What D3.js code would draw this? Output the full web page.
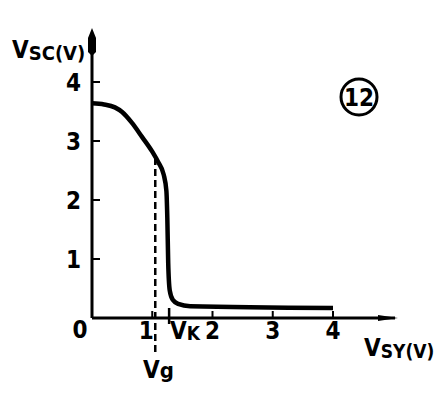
<!DOCTYPE html>
<html><head><meta charset="utf-8">
<script src="https://cdn.jsdelivr.net/npm/d3@7"></script>
<style>body{margin:0;background:#fff}svg{display:block}text{font-family:"DejaVu Sans Condensed","DejaVu Sans",sans-serif;fill:#000;font-weight:bold}</style>
</head><body><svg id="c" width="444" height="398"></svg>
<script>
const vsy = [0.0, 0.20, 0.38, 0.50, 0.66, 0.83, 1.00, 1.10, 1.19, 1.235, 1.25, 1.265, 1.29, 1.34, 1.43, 1.63, 4.0];
const vsc = [3.64, 3.62, 3.57, 3.49, 3.31, 3.07, 2.82, 2.64, 2.43, 2.15, 1.70, 0.93, 0.47, 0.31, 0.24, 0.20, 0.17];
const xTicks = [1, 2, 3, 4];
const yTicks = [1, 2, 3, 4];
const vg = 1.05, vk = 1.28;

const svg = d3.select("#c");
const x = d3.scaleLinear().domain([0, 4]).range([92, 333]);
const y = d3.scaleLinear().domain([0, 4]).range([318, 82]);

// axes
svg.append("line").attr("x1", x(0)).attr("x2", 395).attr("y1", y(0)).attr("y2", y(0)).attr("stroke", "#000").attr("stroke-width", 3);
svg.append("path").attr("d", `M398,${y(0)} L378,${y(0)-3} L378,${y(0)+3} Z`).attr("fill", "#000");
svg.append("line").attr("x1", x(0)).attr("x2", x(0)).attr("y1", y(0)).attr("y2", 38).attr("stroke", "#000").attr("stroke-width", 3);
svg.append("path").attr("d", `M${x(0)},28 L${x(0)-4},38 L${x(0)-4},52 L${x(0)},56 L${x(0)+4},52 L${x(0)+4},38 Z`).attr("fill", "#000");

// ticks
svg.selectAll(".xt").data(xTicks).enter().append("line")
  .attr("x1", d => x(d)).attr("x2", d => x(d)).attr("y1", y(0)).attr("y2", y(0) - 7)
  .attr("stroke", "#000").attr("stroke-width", 2);
svg.selectAll(".yt").data(yTicks).enter().append("line")
  .attr("x1", x(0)).attr("x2", x(0) + 8).attr("y1", d => y(d)).attr("y2", d => y(d))
  .attr("stroke", "#000").attr("stroke-width", 2);
svg.append("line").attr("x1", x(vk)).attr("x2", x(vk)).attr("y1", y(0) - 10).attr("y2", y(0) + 6).attr("stroke", "#000").attr("stroke-width", 2.5);

// tick labels
svg.selectAll(".xl").data(xTicks).enter().append("text")
  .attr("x", d => x(d) - (d === 1 ? 6 : 0)).attr("y", 339).attr("text-anchor", "middle")
  .attr("font-size", 24).text(d => d);
svg.selectAll(".yl").data(yTicks).enter().append("text")
  .attr("x", 81).attr("y", d => y(d) + 9).attr("text-anchor", "end")
  .attr("font-size", 24).text(d => d);
svg.append("text").attr("x", 80).attr("y", 338).attr("text-anchor", "middle").attr("font-size", 24).text("0");

// Vg dashed line
svg.append("line").attr("x1", x(vg)).attr("x2", x(vg)).attr("y1", 352).attr("y2", y(2.72))
  .attr("stroke", "#000").attr("stroke-width", 2.5).attr("stroke-dasharray", "7,4");

// curve
svg.append("path").datum(vsy.map((v, i) => [v, vsc[i]]))
  .attr("d", d3.line().x(d => x(d[0])).y(d => y(d[1])).curve(d3.curveMonotoneX))
  .attr("fill", "none").attr("stroke", "#000").attr("stroke-width", 4.5).attr("stroke-linejoin", "round");

// labels
const yl = svg.append("text").attr("x", 12).attr("y", 58).attr("font-size", 24);
yl.append("tspan").text("V");
yl.append("tspan").attr("font-size", 20).attr("dy", 2).text("SC(V)");

const xl = svg.append("text").attr("x", 364).attr("y", 356).attr("font-size", 24);
xl.append("tspan").text("V");
xl.append("tspan").attr("font-size", 19).attr("dy", 2).text("SY(V)");

const vkl = svg.append("text").attr("x", 170).attr("y", 339).attr("font-size", 24);
vkl.append("tspan").text("V");
vkl.append("tspan").attr("font-size", 19).attr("dy", 1).text("K");

const vgl = svg.append("text").attr("x", 143).attr("y", 378).attr("font-size", 24);
vgl.append("tspan").text("V");
vgl.append("tspan").attr("font-size", 22).text("g");

// circled number
svg.append("circle").attr("cx", 359).attr("cy", 97).attr("r", 18).attr("fill", "none").attr("stroke", "#000").attr("stroke-width", 3);
svg.append("text").attr("x", 359).attr("y", 106).attr("text-anchor", "middle").attr("font-size", 24).text("12");
</script></body></html>
